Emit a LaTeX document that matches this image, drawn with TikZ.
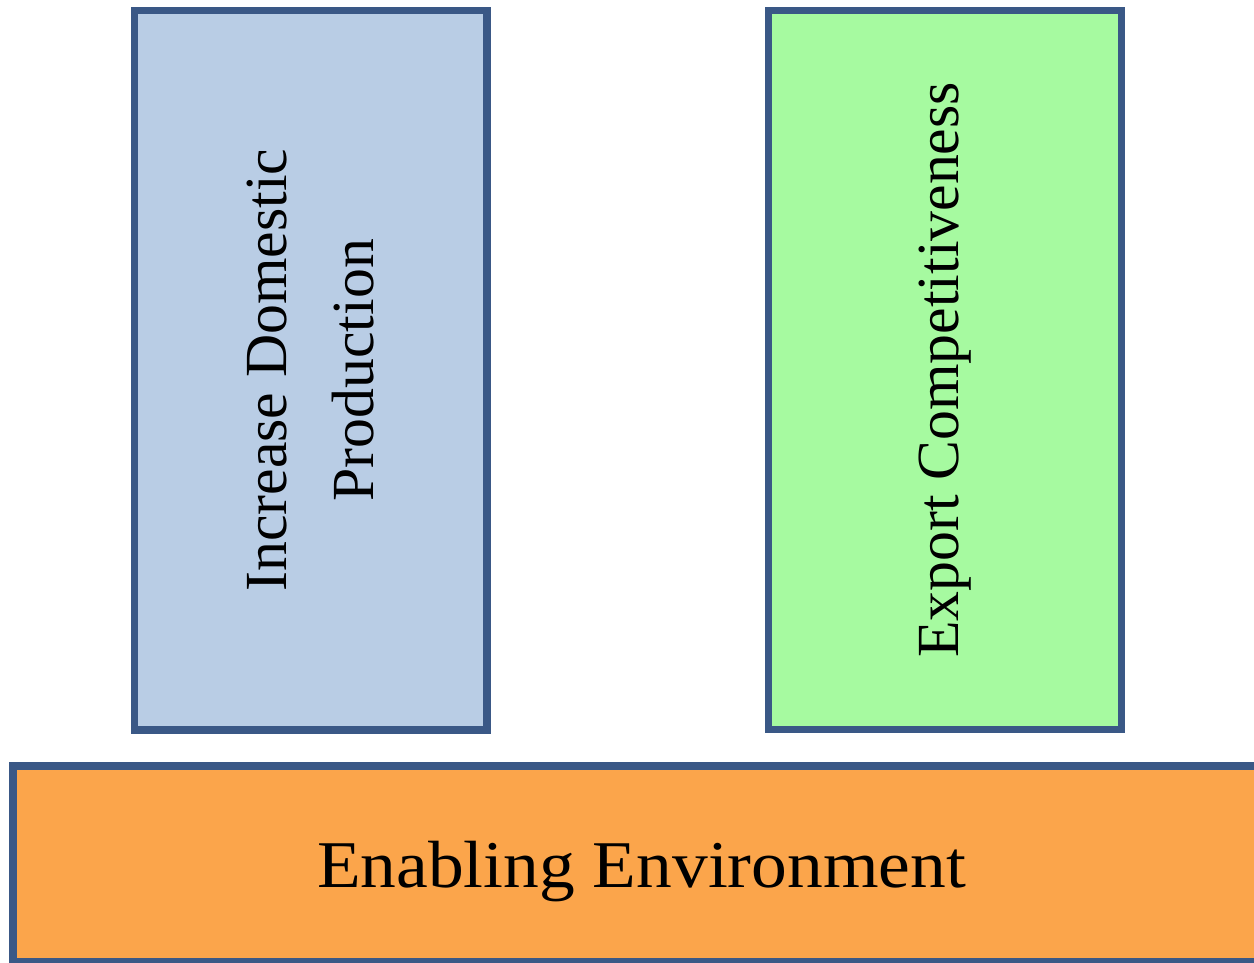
\documentclass[tikz,border=0pt]{standalone}
\usepackage{fontspec}
\setmainfont{Liberation Serif}
\usepackage{tikz}
\usetikzlibrary{positioning}

\definecolor{edgeblue}{RGB}{58,88,134}
\definecolor{paleblue}{RGB}{185,205,229}
\definecolor{palegreen}{RGB}{166,250,160}
\definecolor{softorange}{RGB}{251,165,75}

\tikzset{
  pillar/.style={draw=edgeblue, line width=4pt, rotate=90, align=center,
    minimum width=14.39cm, minimum height=7.05cm, inner sep=0pt,
    font=\fontsize{34}{49.5}\selectfont},
  basebox/.style={draw=edgeblue, line width=4pt, fill=softorange,
    minimum width=25.14cm, minimum height=3.92cm, inner sep=0pt,
    font=\fontsize{38}{46}\selectfont}
}

\begin{document}
\begin{tikzpicture}
  \useasboundingbox (0,0) rectangle (25.08,-19.26);
  % the two pillars
  \node[pillar, fill=paleblue] (domestic) at (6.215,-7.405) {Increase Domestic\\Production};
  \node[pillar, fill=palegreen] (export) at (18.9,-7.4) {Export Competitiveness};
  % the foundation underneath (text a bit wider and lower)
  \node[basebox] (enabling) at (12.83,-17.28)
    {\raisebox{-0.15cm}[\height][\depth]{\scalebox{1.07}[1]{Enabling Environment}}};
\end{tikzpicture}
\end{document}
